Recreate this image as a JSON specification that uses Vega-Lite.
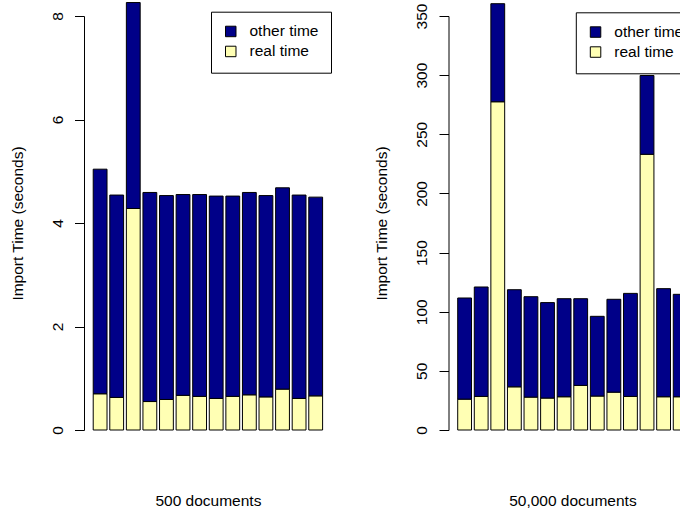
{
  "$schema": "https://vega.github.io/schema/vega-lite/v6.json",
  "background": "white",
  "padding": {"left": 10, "top": 2, "right": 0, "bottom": 0},
  "bounds": "flush",
  "spacing": 116.5,
  "config": {
    "view": {"stroke": null},
    "font": "Liberation Sans",
    "axis": {
      "labelFont": "Liberation Sans",
      "titleFont": "Liberation Sans",
      "labelFontSize": 15.5,
      "titleFontSize": 15.5,
      "titleFontWeight": "normal",
      "labelColor": "black",
      "titleColor": "black",
      "grid": false
    },
    "legend": {
      "labelFont": "Liberation Sans",
      "labelFontSize": 15.5,
      "labelColor": "black"
    }
  },
  "datasets": {
    "small": [
      {"bar": 1, "series": "real time", "value": 0.70}, {"bar": 1, "series": "other time", "value": 4.34},
      {"bar": 2, "series": "real time", "value": 0.63}, {"bar": 2, "series": "other time", "value": 3.91},
      {"bar": 3, "series": "real time", "value": 4.28}, {"bar": 3, "series": "other time", "value": 3.98},
      {"bar": 4, "series": "real time", "value": 0.55}, {"bar": 4, "series": "other time", "value": 4.04},
      {"bar": 5, "series": "real time", "value": 0.59}, {"bar": 5, "series": "other time", "value": 3.94},
      {"bar": 6, "series": "real time", "value": 0.67}, {"bar": 6, "series": "other time", "value": 3.88},
      {"bar": 7, "series": "real time", "value": 0.65}, {"bar": 7, "series": "other time", "value": 3.90},
      {"bar": 8, "series": "real time", "value": 0.61}, {"bar": 8, "series": "other time", "value": 3.91},
      {"bar": 9, "series": "real time", "value": 0.65}, {"bar": 9, "series": "other time", "value": 3.87},
      {"bar": 10, "series": "real time", "value": 0.68}, {"bar": 10, "series": "other time", "value": 3.91},
      {"bar": 11, "series": "real time", "value": 0.64}, {"bar": 11, "series": "other time", "value": 3.89},
      {"bar": 12, "series": "real time", "value": 0.79}, {"bar": 12, "series": "other time", "value": 3.89},
      {"bar": 13, "series": "real time", "value": 0.61}, {"bar": 13, "series": "other time", "value": 3.93},
      {"bar": 14, "series": "real time", "value": 0.66}, {"bar": 14, "series": "other time", "value": 3.84}
    ],
    "large": [
      {"bar": 1, "series": "real time", "value": 26.1}, {"bar": 1, "series": "other time", "value": 85.5},
      {"bar": 2, "series": "real time", "value": 28.4}, {"bar": 2, "series": "other time", "value": 92.5},
      {"bar": 3, "series": "real time", "value": 277.5}, {"bar": 3, "series": "other time", "value": 82.9},
      {"bar": 4, "series": "real time", "value": 36.5}, {"bar": 4, "series": "other time", "value": 82.1},
      {"bar": 5, "series": "real time", "value": 27.8}, {"bar": 5, "series": "other time", "value": 84.9},
      {"bar": 6, "series": "real time", "value": 27.0}, {"bar": 6, "series": "other time", "value": 80.7},
      {"bar": 7, "series": "real time", "value": 28.1}, {"bar": 7, "series": "other time", "value": 82.9},
      {"bar": 8, "series": "real time", "value": 37.7}, {"bar": 8, "series": "other time", "value": 73.3},
      {"bar": 9, "series": "real time", "value": 28.7}, {"bar": 9, "series": "other time", "value": 67.4},
      {"bar": 10, "series": "real time", "value": 32.0}, {"bar": 10, "series": "other time", "value": 78.5},
      {"bar": 11, "series": "real time", "value": 28.4}, {"bar": 11, "series": "other time", "value": 87.1},
      {"bar": 12, "series": "real time", "value": 233.1}, {"bar": 12, "series": "other time", "value": 66.6},
      {"bar": 13, "series": "real time", "value": 28.1}, {"bar": 13, "series": "other time", "value": 91.4},
      {"bar": 14, "series": "real time", "value": 28.1}, {"bar": 14, "series": "other time", "value": 86.6}
    ]
  },
  "resolve": {
    "scale": {"x": "independent", "y": "independent", "fill": "independent"},
    "legend": {"fill": "independent"}
  },
  "hconcat": [
    {
      "width": 247.8,
      "height": 414,
      "data": {"name": "small"},
      "mark": {"type": "bar", "stroke": "black", "strokeWidth": 1},
      "encoding": {
        "x": {
          "field": "bar", "type": "ordinal",
          "scale": {"paddingInner": 0.1667, "paddingOuter": 0.555},
          "axis": {"title": "500 documents", "labels": false, "ticks": false, "domain": false, "titlePadding": 63}
        },
        "y": {
          "field": "value", "type": "quantitative", "stack": "zero",
          "scale": {"domain": [0, 8], "nice": false, "zero": true},
          "axis": {
            "title": "Import Time (seconds)",
            "values": [0, 2, 4, 6, 8],
            "tickSize": 9.5, "tickColor": "black", "domainColor": "black",
            "labelAngle": 270, "labelAlign": "center", "labelBaseline": "alphabetic",
            "labelPadding": 12.5, "titlePadding": 25
          }
        },
        "fill": {
          "field": "series", "type": "nominal",
          "scale": {"domain": ["other time", "real time"], "range": ["#000088", "#ffffb4"]},
          "legend": {
            "title": null, "orient": "none", "legendX": 127, "legendY": -4.3,
            "symbolType": "square", "symbolSize": 110, "symbolStrokeColor": "black", "symbolStrokeWidth": 1,
            "strokeColor": "black", "fillColor": "white", "padding": 12, "symbolOffset": 0,
            "labelOffset": 11, "rowPadding": 3
          }
        },
        "order": {"field": "series", "sort": "descending"}
      }
    },
    {
      "width": 247.8,
      "height": 414,
      "data": {"name": "large"},
      "mark": {"type": "bar", "stroke": "black", "strokeWidth": 1},
      "encoding": {
        "x": {
          "field": "bar", "type": "ordinal",
          "scale": {"paddingInner": 0.1667, "paddingOuter": 0.555},
          "axis": {"title": "50,000 documents", "labels": false, "ticks": false, "domain": false, "titlePadding": 63}
        },
        "y": {
          "field": "value", "type": "quantitative", "stack": "zero",
          "scale": {"domain": [0, 350], "nice": false, "zero": true},
          "axis": {
            "title": "Import Time (seconds)",
            "values": [0, 50, 100, 150, 200, 250, 300, 350],
            "tickSize": 9.5, "tickColor": "black", "domainColor": "black",
            "labelAngle": 270, "labelAlign": "center", "labelBaseline": "alphabetic",
            "labelPadding": 12.5, "titlePadding": 25
          }
        },
        "fill": {
          "field": "series", "type": "nominal",
          "scale": {"domain": ["other time", "real time"], "range": ["#000088", "#ffffb4"]},
          "legend": {
            "title": null, "orient": "none", "legendX": 127.3, "legendY": -3.7,
            "symbolType": "square", "symbolSize": 110, "symbolStrokeColor": "black", "symbolStrokeWidth": 1,
            "strokeColor": "black", "fillColor": "white", "padding": 12, "symbolOffset": 0,
            "labelOffset": 11, "rowPadding": 3
          }
        },
        "order": {"field": "series", "sort": "descending"}
      }
    }
  ]
}
